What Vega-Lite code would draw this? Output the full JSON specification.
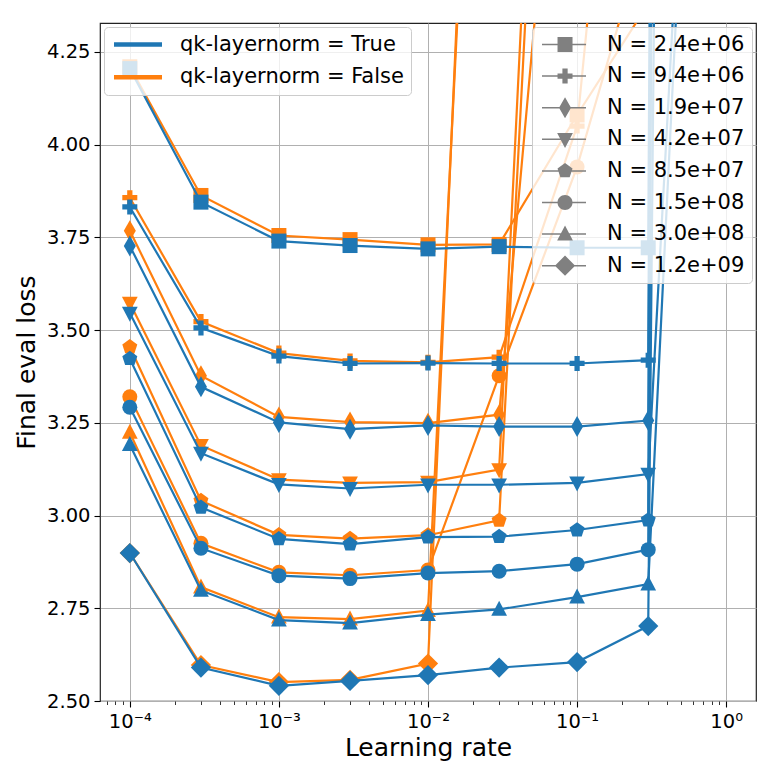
{
  "$schema": "https://vega.github.io/schema/vega-lite/v6.json",
  "width": 656,
  "height": 678,
  "autosize": {"type": "none"},
  "padding": {"left": 100, "top": 23, "right": 28, "bottom": 69},
  "background": "white",
  "config": {"font": "DejaVu Sans", "view": {"stroke": "#222222", "strokeWidth": 1.2}},
  "data": {
    "values": [
      {"lr": 0.0001, "loss": 4.205, "qk": "True", "N": "N = 2.4e+06"},
      {"lr": 0.0003, "loss": 3.845, "qk": "True", "N": "N = 2.4e+06"},
      {"lr": 0.001, "loss": 3.740, "qk": "True", "N": "N = 2.4e+06"},
      {"lr": 0.003, "loss": 3.728, "qk": "True", "N": "N = 2.4e+06"},
      {"lr": 0.01, "loss": 3.719, "qk": "True", "N": "N = 2.4e+06"},
      {"lr": 0.03, "loss": 3.725, "qk": "True", "N": "N = 2.4e+06"},
      {"lr": 0.1, "loss": 3.722, "qk": "True", "N": "N = 2.4e+06"},
      {"lr": 0.3, "loss": 3.722, "qk": "True", "N": "N = 2.4e+06"},
      {"lr": 1, "loss": 40, "qk": "True", "N": "N = 2.4e+06"},
      {"lr": 0.0001, "loss": 3.832, "qk": "True", "N": "N = 9.4e+06"},
      {"lr": 0.0003, "loss": 3.506, "qk": "True", "N": "N = 9.4e+06"},
      {"lr": 0.001, "loss": 3.430, "qk": "True", "N": "N = 9.4e+06"},
      {"lr": 0.003, "loss": 3.410, "qk": "True", "N": "N = 9.4e+06"},
      {"lr": 0.01, "loss": 3.411, "qk": "True", "N": "N = 9.4e+06"},
      {"lr": 0.03, "loss": 3.410, "qk": "True", "N": "N = 9.4e+06"},
      {"lr": 0.1, "loss": 3.410, "qk": "True", "N": "N = 9.4e+06"},
      {"lr": 0.3, "loss": 3.419, "qk": "True", "N": "N = 9.4e+06"},
      {"lr": 1, "loss": 40, "qk": "True", "N": "N = 9.4e+06"},
      {"lr": 0.0001, "loss": 3.727, "qk": "True", "N": "N = 1.9e+07"},
      {"lr": 0.0003, "loss": 3.347, "qk": "True", "N": "N = 1.9e+07"},
      {"lr": 0.001, "loss": 3.251, "qk": "True", "N": "N = 1.9e+07"},
      {"lr": 0.003, "loss": 3.233, "qk": "True", "N": "N = 1.9e+07"},
      {"lr": 0.01, "loss": 3.243, "qk": "True", "N": "N = 1.9e+07"},
      {"lr": 0.03, "loss": 3.240, "qk": "True", "N": "N = 1.9e+07"},
      {"lr": 0.1, "loss": 3.240, "qk": "True", "N": "N = 1.9e+07"},
      {"lr": 0.3, "loss": 3.256, "qk": "True", "N": "N = 1.9e+07"},
      {"lr": 1, "loss": 40, "qk": "True", "N": "N = 1.9e+07"},
      {"lr": 0.0001, "loss": 3.546, "qk": "True", "N": "N = 4.2e+07"},
      {"lr": 0.0003, "loss": 3.168, "qk": "True", "N": "N = 4.2e+07"},
      {"lr": 0.001, "loss": 3.084, "qk": "True", "N": "N = 4.2e+07"},
      {"lr": 0.003, "loss": 3.073, "qk": "True", "N": "N = 4.2e+07"},
      {"lr": 0.01, "loss": 3.083, "qk": "True", "N": "N = 4.2e+07"},
      {"lr": 0.03, "loss": 3.083, "qk": "True", "N": "N = 4.2e+07"},
      {"lr": 0.1, "loss": 3.088, "qk": "True", "N": "N = 4.2e+07"},
      {"lr": 0.3, "loss": 3.112, "qk": "True", "N": "N = 4.2e+07"},
      {"lr": 1, "loss": 7.0, "qk": "True", "N": "N = 4.2e+07"},
      {"lr": 0.0001, "loss": 3.423, "qk": "True", "N": "N = 8.5e+07"},
      {"lr": 0.0003, "loss": 3.022, "qk": "True", "N": "N = 8.5e+07"},
      {"lr": 0.001, "loss": 2.937, "qk": "True", "N": "N = 8.5e+07"},
      {"lr": 0.003, "loss": 2.923, "qk": "True", "N": "N = 8.5e+07"},
      {"lr": 0.01, "loss": 2.942, "qk": "True", "N": "N = 8.5e+07"},
      {"lr": 0.03, "loss": 2.943, "qk": "True", "N": "N = 8.5e+07"},
      {"lr": 0.1, "loss": 2.961, "qk": "True", "N": "N = 8.5e+07"},
      {"lr": 0.3, "loss": 2.988, "qk": "True", "N": "N = 8.5e+07"},
      {"lr": 1, "loss": 40, "qk": "True", "N": "N = 8.5e+07"},
      {"lr": 0.0001, "loss": 3.292, "qk": "True", "N": "N = 1.5e+08"},
      {"lr": 0.0003, "loss": 2.912, "qk": "True", "N": "N = 1.5e+08"},
      {"lr": 0.001, "loss": 2.838, "qk": "True", "N": "N = 1.5e+08"},
      {"lr": 0.003, "loss": 2.830, "qk": "True", "N": "N = 1.5e+08"},
      {"lr": 0.01, "loss": 2.845, "qk": "True", "N": "N = 1.5e+08"},
      {"lr": 0.03, "loss": 2.850, "qk": "True", "N": "N = 1.5e+08"},
      {"lr": 0.1, "loss": 2.869, "qk": "True", "N": "N = 1.5e+08"},
      {"lr": 0.3, "loss": 2.908, "qk": "True", "N": "N = 1.5e+08"},
      {"lr": 1, "loss": 40, "qk": "True", "N": "N = 1.5e+08"},
      {"lr": 0.0001, "loss": 3.191, "qk": "True", "N": "N = 3.0e+08"},
      {"lr": 0.0003, "loss": 2.798, "qk": "True", "N": "N = 3.0e+08"},
      {"lr": 0.001, "loss": 2.718, "qk": "True", "N": "N = 3.0e+08"},
      {"lr": 0.003, "loss": 2.710, "qk": "True", "N": "N = 3.0e+08"},
      {"lr": 0.01, "loss": 2.733, "qk": "True", "N": "N = 3.0e+08"},
      {"lr": 0.03, "loss": 2.747, "qk": "True", "N": "N = 3.0e+08"},
      {"lr": 0.1, "loss": 2.780, "qk": "True", "N": "N = 3.0e+08"},
      {"lr": 0.3, "loss": 2.815, "qk": "True", "N": "N = 3.0e+08"},
      {"lr": 1, "loss": 7.1, "qk": "True", "N": "N = 3.0e+08"},
      {"lr": 0.0001, "loss": 2.899, "qk": "True", "N": "N = 1.2e+09"},
      {"lr": 0.0003, "loss": 2.590, "qk": "True", "N": "N = 1.2e+09"},
      {"lr": 0.001, "loss": 2.541, "qk": "True", "N": "N = 1.2e+09"},
      {"lr": 0.003, "loss": 2.554, "qk": "True", "N": "N = 1.2e+09"},
      {"lr": 0.01, "loss": 2.570, "qk": "True", "N": "N = 1.2e+09"},
      {"lr": 0.03, "loss": 2.590, "qk": "True", "N": "N = 1.2e+09"},
      {"lr": 0.1, "loss": 2.605, "qk": "True", "N": "N = 1.2e+09"},
      {"lr": 0.3, "loss": 2.702, "qk": "True", "N": "N = 1.2e+09"},
      {"lr": 1, "loss": 25, "qk": "True", "N": "N = 1.2e+09"},
      {"lr": 0.0001, "loss": 4.210, "qk": "False", "N": "N = 2.4e+06"},
      {"lr": 0.0003, "loss": 3.863, "qk": "False", "N": "N = 2.4e+06"},
      {"lr": 0.001, "loss": 3.755, "qk": "False", "N": "N = 2.4e+06"},
      {"lr": 0.003, "loss": 3.744, "qk": "False", "N": "N = 2.4e+06"},
      {"lr": 0.01, "loss": 3.730, "qk": "False", "N": "N = 2.4e+06"},
      {"lr": 0.03, "loss": 3.731, "qk": "False", "N": "N = 2.4e+06"},
      {"lr": 0.1, "loss": 4.080, "qk": "False", "N": "N = 2.4e+06"},
      {"lr": 0.3, "loss": 4.380, "qk": "False", "N": "N = 2.4e+06"},
      {"lr": 0.0001, "loss": 3.857, "qk": "False", "N": "N = 9.4e+06"},
      {"lr": 0.0003, "loss": 3.523, "qk": "False", "N": "N = 9.4e+06"},
      {"lr": 0.001, "loss": 3.438, "qk": "False", "N": "N = 9.4e+06"},
      {"lr": 0.003, "loss": 3.417, "qk": "False", "N": "N = 9.4e+06"},
      {"lr": 0.01, "loss": 3.413, "qk": "False", "N": "N = 9.4e+06"},
      {"lr": 0.03, "loss": 3.427, "qk": "False", "N": "N = 9.4e+06"},
      {"lr": 0.1, "loss": 4.050, "qk": "False", "N": "N = 9.4e+06"},
      {"lr": 0.3, "loss": 6.0, "qk": "False", "N": "N = 9.4e+06"},
      {"lr": 0.0001, "loss": 3.768, "qk": "False", "N": "N = 1.9e+07"},
      {"lr": 0.0003, "loss": 3.377, "qk": "False", "N": "N = 1.9e+07"},
      {"lr": 0.001, "loss": 3.266, "qk": "False", "N": "N = 1.9e+07"},
      {"lr": 0.003, "loss": 3.252, "qk": "False", "N": "N = 1.9e+07"},
      {"lr": 0.01, "loss": 3.249, "qk": "False", "N": "N = 1.9e+07"},
      {"lr": 0.03, "loss": 3.272, "qk": "False", "N": "N = 1.9e+07"},
      {"lr": 0.1, "loss": 5.6, "qk": "False", "N": "N = 1.9e+07"},
      {"lr": 0.0001, "loss": 3.573, "qk": "False", "N": "N = 4.2e+07"},
      {"lr": 0.0003, "loss": 3.189, "qk": "False", "N": "N = 4.2e+07"},
      {"lr": 0.001, "loss": 3.097, "qk": "False", "N": "N = 4.2e+07"},
      {"lr": 0.003, "loss": 3.088, "qk": "False", "N": "N = 4.2e+07"},
      {"lr": 0.01, "loss": 3.090, "qk": "False", "N": "N = 4.2e+07"},
      {"lr": 0.03, "loss": 3.124, "qk": "False", "N": "N = 4.2e+07"},
      {"lr": 0.1, "loss": 7.4, "qk": "False", "N": "N = 4.2e+07"},
      {"lr": 0.0001, "loss": 3.455, "qk": "False", "N": "N = 8.5e+07"},
      {"lr": 0.0003, "loss": 3.040, "qk": "False", "N": "N = 8.5e+07"},
      {"lr": 0.001, "loss": 2.948, "qk": "False", "N": "N = 8.5e+07"},
      {"lr": 0.003, "loss": 2.938, "qk": "False", "N": "N = 8.5e+07"},
      {"lr": 0.01, "loss": 2.947, "qk": "False", "N": "N = 8.5e+07"},
      {"lr": 0.03, "loss": 2.987, "qk": "False", "N": "N = 8.5e+07"},
      {"lr": 0.1, "loss": 7.0, "qk": "False", "N": "N = 8.5e+07"},
      {"lr": 0.0001, "loss": 3.320, "qk": "False", "N": "N = 1.5e+08"},
      {"lr": 0.0003, "loss": 2.925, "qk": "False", "N": "N = 1.5e+08"},
      {"lr": 0.001, "loss": 2.847, "qk": "False", "N": "N = 1.5e+08"},
      {"lr": 0.003, "loss": 2.839, "qk": "False", "N": "N = 1.5e+08"},
      {"lr": 0.01, "loss": 2.853, "qk": "False", "N": "N = 1.5e+08"},
      {"lr": 0.03, "loss": 3.377, "qk": "False", "N": "N = 1.5e+08"},
      {"lr": 0.1, "loss": 3.940, "qk": "False", "N": "N = 1.5e+08"},
      {"lr": 0.3, "loss": 4.6, "qk": "False", "N": "N = 1.5e+08"},
      {"lr": 0.0001, "loss": 3.224, "qk": "False", "N": "N = 3.0e+08"},
      {"lr": 0.0003, "loss": 2.807, "qk": "False", "N": "N = 3.0e+08"},
      {"lr": 0.001, "loss": 2.726, "qk": "False", "N": "N = 3.0e+08"},
      {"lr": 0.003, "loss": 2.721, "qk": "False", "N": "N = 3.0e+08"},
      {"lr": 0.01, "loss": 2.744, "qk": "False", "N": "N = 3.0e+08"},
      {"lr": 0.03, "loss": 6.6, "qk": "False", "N": "N = 3.0e+08"},
      {"lr": 0.0001, "loss": 2.899, "qk": "False", "N": "N = 1.2e+09"},
      {"lr": 0.0003, "loss": 2.597, "qk": "False", "N": "N = 1.2e+09"},
      {"lr": 0.001, "loss": 2.551, "qk": "False", "N": "N = 1.2e+09"},
      {"lr": 0.003, "loss": 2.557, "qk": "False", "N": "N = 1.2e+09"},
      {"lr": 0.01, "loss": 2.601, "qk": "False", "N": "N = 1.2e+09"},
      {"lr": 0.03, "loss": 6.9, "qk": "False", "N": "N = 1.2e+09"}
    ]
  },
  "encoding": {
    "x": {
      "field": "lr",
      "type": "quantitative",
      "scale": {"type": "log", "domain": [0.0000631, 1.585], "nice": false},
      "axis": {
        "title": "Learning rate",
        "titleFontSize": 25,
        "titleFontWeight": "normal",
        "titleColor": "black",
        "titlePadding": 5,
        "values": [0.00007, 0.00008, 0.00009, 0.0001, 0.0002, 0.0003, 0.0004, 0.0005, 0.0006, 0.0007, 0.0008, 0.0009, 0.001, 0.002, 0.003, 0.004, 0.005, 0.006, 0.007, 0.008, 0.009, 0.01, 0.02, 0.03, 0.04, 0.05, 0.06, 0.07, 0.08, 0.09, 0.1, 0.2, 0.3, 0.4, 0.5, 0.6, 0.7, 0.8, 0.9, 1],
        "labelExpr": "abs(log(datum.value)/LN10 - round(log(datum.value)/LN10)) < 0.01 ? '10' + ['⁰','⁻¹','⁻²','⁻³','⁻⁴'][-round(log(datum.value)/LN10)] : ''",
        "labelOverlap": false,
        "labelFlush": false,
        "labelFontSize": 19.5,
        "labelColor": "black",
        "labelPadding": 5,
        "domain": false,
        "tickColor": "black",
        "tickSize": {"condition": {"test": "abs(log(datum.value)/LN10 - round(log(datum.value)/LN10)) < 0.01", "value": 6}, "value": 3.5},
        "tickWidth": {"condition": {"test": "abs(log(datum.value)/LN10 - round(log(datum.value)/LN10)) < 0.01", "value": 1.1}, "value": 0.8},
        "grid": true,
        "gridColor": "#b0b0b0",
        "gridWidth": 1,
        "gridOpacity": {"condition": {"test": "abs(log(datum.value)/LN10 - round(log(datum.value)/LN10)) < 0.01", "value": 1}, "value": 0}
      }
    },
    "y": {
      "field": "loss",
      "type": "quantitative",
      "scale": {"domain": [2.5, 4.328], "nice": false, "zero": false},
      "axis": {
        "title": "Final eval loss",
        "titleFontSize": 25,
        "titleFontWeight": "normal",
        "titleColor": "black",
        "titlePadding": 7,
        "values": [2.5, 2.75, 3, 3.25, 3.5, 3.75, 4, 4.25],
        "format": ".2f",
        "labelFlush": false,
        "labelFontSize": 19.5,
        "labelColor": "black",
        "labelPadding": 4,
        "domain": false,
        "tickColor": "black",
        "tickSize": 6,
        "tickWidth": 1.1,
        "grid": true,
        "gridColor": "#b0b0b0",
        "gridWidth": 1
      }
    }
  },
  "layer": [
    {
      "mark": {"type": "point", "filled": true, "opacity": 0, "color": "#808080", "size": 225},
      "encoding": {
        "shape": {
          "field": "N",
          "type": "nominal",
          "scale": {
            "domain": ["N = 2.4e+06", "N = 9.4e+06", "N = 1.9e+07", "N = 4.2e+07", "N = 8.5e+07", "N = 1.5e+08", "N = 3.0e+08", "N = 1.2e+09"],
            "range": [
              "M-1,-0.1L4.87,-0.1L4.87,0.1L-1,0.1ZM1.07,-1L3.07,-1L3.07,1L1.07,1Z",
              "M-1,-0.1L4.87,-0.1L4.87,0.1L-1,0.1ZM1.07,-0.35L1.72,-0.35L1.72,-1L2.42,-1L2.42,-0.35L3.07,-0.35L3.07,0.35L2.42,0.35L2.42,1L1.72,1L1.72,0.35L1.07,0.35Z",
              "M-1,-0.1L4.87,-0.1L4.87,0.1L-1,0.1ZM2.07,-1.4L2.87,0L2.07,1.4L1.27,0Z",
              "M-1,-0.1L4.87,-0.1L4.87,0.1L-1,0.1ZM1.02,-0.85L3.12,-0.85L2.07,1.15Z",
              "M-1,-0.1L4.87,-0.1L4.87,0.1L-1,0.1ZM2.07,-1.05L3.07,-0.32L2.69,0.85L1.45,0.85L1.07,-0.32Z",
              "M-1,-0.1L4.87,-0.1L4.87,0.1L-1,0.1ZM3.07,0A1,1,0,1,1,1.07,0A1,1,0,1,1,3.07,0Z",
              "M-1,-0.1L4.87,-0.1L4.87,0.1L-1,0.1ZM2.07,-1.15L3.12,0.85L1.02,0.85Z",
              "M-1,-0.1L4.87,-0.1L4.87,0.1L-1,0.1ZM2.07,-1.35L3.42,0L2.07,1.35L0.72,0Z"
            ]
          },
          "legend": {
            "title": null,
            "orient": "top-right",
            "offset": 4,
            "symbolSize": 225,
            "symbolOpacity": 1,
            "symbolFillColor": "#808080",
            "symbolStrokeColor": "#808080",
            "symbolStrokeWidth": 0,
            "labelFontSize": 21,
            "labelColor": "black",
            "labelLimit": 0,
            "labelOffset": 47,
            "rowPadding": 9.6,
            "padding": 7,
            "fillColor": "rgba(255,255,255,0.8)",
            "strokeColor": "#cccccc",
            "cornerRadius": 4
          }
        }
      }
    },
    {
      "transform": [{"filter": "datum.qk == 'False'"}],
      "mark": {"type": "line", "strokeWidth": 2.2, "clip": true},
      "encoding": {
        "color": {
          "field": "qk",
          "type": "nominal",
          "scale": {"domain": ["True", "False"], "range": ["#1f77b4", "#ff7f0e"]},
          "legend": {
            "title": null,
            "orient": "top-left",
            "offset": 4,
            "symbolType": "M-1,0L5.4,0",
            "symbolSize": 225,
            "symbolStrokeWidth": 4.5,
            "labelExpr": "'qk-layernorm = ' + datum.label",
            "labelFontSize": 21,
            "labelColor": "black",
            "labelLimit": 0,
            "labelOffset": 48,
            "rowPadding": 10.7,
            "padding": 7,
            "fillColor": "rgba(255,255,255,0.8)",
            "strokeColor": "#cccccc",
            "cornerRadius": 4
          }
        },
        "detail": {"field": "N", "type": "nominal"}
      }
    },
    {
      "transform": [{"filter": "datum.qk == 'False'"}],
      "mark": {"type": "point", "filled": true, "opacity": 1, "size": 225, "color": "#ff7f0e", "clip": true},
      "encoding": {
        "shape": {
          "field": "N",
          "type": "nominal",
          "scale": {
            "domain": ["N = 2.4e+06", "N = 9.4e+06", "N = 1.9e+07", "N = 4.2e+07", "N = 8.5e+07", "N = 1.5e+08", "N = 3.0e+08", "N = 1.2e+09"],
            "range": [
              "M-1,-1L1,-1L1,1L-1,1Z",
              "M-1,-0.35L-0.35,-0.35L-0.35,-1L0.35,-1L0.35,-0.35L1,-0.35L1,0.35L0.35,0.35L0.35,1L-0.35,1L-0.35,0.35L-1,0.35Z",
              "M0,-1.4L0.8,0L0,1.4L-0.8,0Z",
              "M-1.05,-0.85L1.05,-0.85L0,1.15Z",
              "M0,-1.05L1,-0.32L0.62,0.85L-0.62,0.85L-1,-0.32Z",
              "circle",
              "M0,-1.15L1.05,0.85L-1.05,0.85Z",
              "M0,-1.35L1.35,0L0,1.35L-1.35,0Z"
            ]
          },
          "legend": null
        }
      }
    },
    {
      "transform": [{"filter": "datum.qk == 'True'"}],
      "mark": {"type": "line", "strokeWidth": 2.2, "clip": true},
      "encoding": {
        "color": {
          "field": "qk",
          "type": "nominal",
          "scale": {"domain": ["True", "False"], "range": ["#1f77b4", "#ff7f0e"]},
          "legend": {
            "title": null,
            "orient": "top-left",
            "offset": 4,
            "symbolType": "M-1,0L5.4,0",
            "symbolSize": 225,
            "symbolStrokeWidth": 4.5,
            "labelExpr": "'qk-layernorm = ' + datum.label",
            "labelFontSize": 21,
            "labelColor": "black",
            "labelLimit": 0,
            "labelOffset": 48,
            "rowPadding": 10.7,
            "padding": 7,
            "fillColor": "rgba(255,255,255,0.8)",
            "strokeColor": "#cccccc",
            "cornerRadius": 4
          }
        },
        "detail": {"field": "N", "type": "nominal"}
      }
    },
    {
      "transform": [{"filter": "datum.qk == 'True'"}],
      "mark": {"type": "point", "filled": true, "opacity": 1, "size": 225, "color": "#1f77b4", "clip": true},
      "encoding": {
        "shape": {
          "field": "N",
          "type": "nominal",
          "scale": {
            "domain": ["N = 2.4e+06", "N = 9.4e+06", "N = 1.9e+07", "N = 4.2e+07", "N = 8.5e+07", "N = 1.5e+08", "N = 3.0e+08", "N = 1.2e+09"],
            "range": [
              "M-1,-1L1,-1L1,1L-1,1Z",
              "M-1,-0.35L-0.35,-0.35L-0.35,-1L0.35,-1L0.35,-0.35L1,-0.35L1,0.35L0.35,0.35L0.35,1L-0.35,1L-0.35,0.35L-1,0.35Z",
              "M0,-1.4L0.8,0L0,1.4L-0.8,0Z",
              "M-1.05,-0.85L1.05,-0.85L0,1.15Z",
              "M0,-1.05L1,-0.32L0.62,0.85L-0.62,0.85L-1,-0.32Z",
              "circle",
              "M0,-1.15L1.05,0.85L-1.05,0.85Z",
              "M0,-1.35L1.35,0L0,1.35L-1.35,0Z"
            ]
          },
          "legend": null
        }
      }
    }
  ],
  "resolve": {"scale": {"shape": "independent"}}
}
